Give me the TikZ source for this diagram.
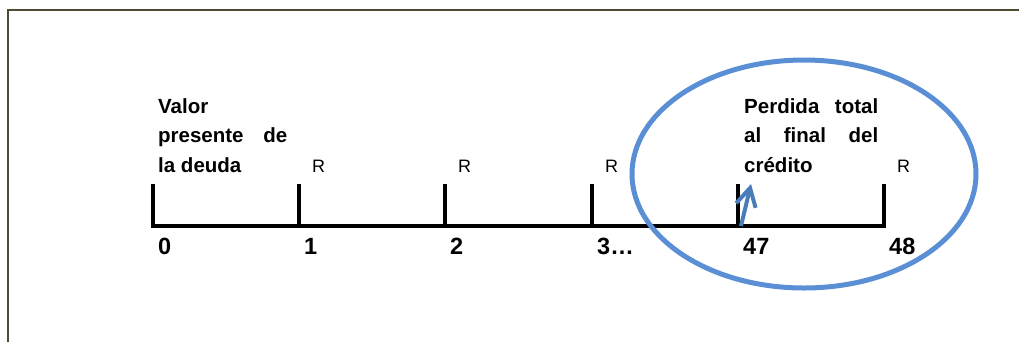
\documentclass[tikz,border=0pt]{standalone}
\usepackage{fontspec}
\setmainfont{Liberation Sans}
\usetikzlibrary{arrows.meta, positioning, shapes.geometric}
\definecolor{framecol}{HTML}{4F4A32}
\definecolor{ringblue}{HTML}{5A8FD5}
\definecolor{arrowblue}{HTML}{4A7EBB}

\begin{document}
\begin{tikzpicture}[
    x=1pt, y=-1pt,
    tick/.style={
        line width=4pt
    },
    axis/.style={
        line width=4.5pt,
        line cap=rect
    },
    num/.style={
        anchor=base west,
        inner sep=0pt,
        font=\fontsize{23.5}{28}\selectfont\bfseries
    },
    pay/.style={
        anchor=base west,
        inner sep=0pt,
        font=\fontsize{18}{21}\selectfont
    },
    note/.style={
        anchor=north west,
        inner sep=0pt,
        align=left,
        font=\fontsize{20.5}{29.5}\selectfont\bfseries
    },
    ring/.style={
        ellipse,
        draw=ringblue,
        line width=5pt,
        minimum width=344pt,
        minimum height=228pt
    },
    arrow/.style={
        -{Straight Barb[length=18pt, width=20pt]},
        draw=arrowblue,
        line width=4pt
    }
]

% Frame
\useasboundingbox (0,0) rectangle (1019,341);
\draw[framecol, line width=2pt] (8,345) -- (8,10) -- (1025,10);

% Ticks and periods
\foreach \x/\lab [count=\i from 0] in {153/0, 299/1, 445/2, 592/3\ldots, 738/47, 884/48} {
    \coordinate (t\i) at (\x,226);
    \draw[tick] (t\i) -- ++(0,-42);
    \node[num] (n\i) at (\x+5,254.5) {\lab};
}

% Time line
\draw[axis] (t0) -- (t5);

% Payments
\foreach \x/\i in {299/1, 445/2, 592/3, 884/5} {
    \node[pay] (r\i) at (\x+13,172) {R};
}

% Texts
\node[note] (valor) at (158,98) {Valor\\\hbox to 129pt{presente\hfill de}\\la deuda};
\node[note] (perdida) at (744,98) {\hbox to 134pt{Perdida\hfill total}\\\hbox to 134pt{al\hfill final\hfill del}\\crédito};

% Highlight
\node[ring] (oval) at (804,174) {};
\coordinate (tip) at (751,184);
\draw[arrow] ([xshift=3pt]t4) -- (tip);

\end{tikzpicture}
\end{document}
